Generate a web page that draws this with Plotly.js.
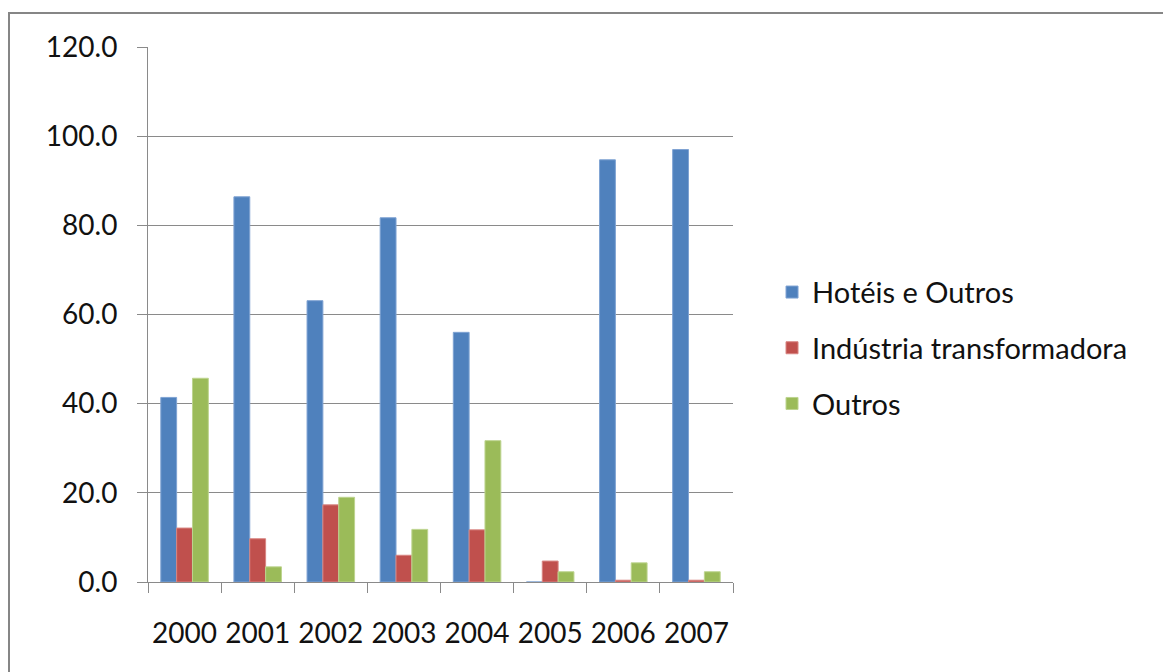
<!DOCTYPE html>
<html>
<head>
<meta charset="utf-8">
<script src="https://cdn.plot.ly/plotly-3.0.1.min.js"></script>
<style>
  html, body { margin: 0; padding: 0; background: #fff; overflow: hidden; }
  #chart { width: 1163px; height: 672px; }
  #frame { position: absolute; left: 8px; top: 12px; width: 1200px; height: 700px;
           border: 2px solid #868686; pointer-events: none; }
</style>
</head>
<body>
<div id="chart"></div>
<div id="frame"></div>
<script>
const years = ['2000', '2001', '2002', '2003', '2004', '2005', '2006', '2007'];
const hoteis = [41.4, 86.4, 63.1, 81.7, 56.0, 0, 94.7, 97.0];
const industria = [12.1, 9.7, 17.3, 6.0, 11.7, 4.7, 0.4, 0.4];
const outros = [45.7, 3.4, 19.0, 11.8, 31.7, 2.3, 4.3, 2.3];
const seriesNames = ['Hotéis e Outros', 'Indústria transformadora', 'Outros'];
const colors = ['#4F81BD', '#C0504D', '#9BBB59'];
const lineColors = ['#7FA3D3', '#D88582', '#BDD48F'];

const values = [hoteis, industria, outros];
const traces = values.map((v, i) => ({
  type: 'bar',
  x: years,
  y: v,
  name: seriesNames[i],
  legendgroup: 'g' + i,
  marker: { color: colors[i], line: { color: lineColors[i], width: 1 } },
  hoverinfo: 'x+y+name'
}));

const fontFamily = 'Lato, Carlito, Calibri, "Open Sans", sans-serif';
const gridColor = '#8a8a8a';
const textColor = '#111111';

const layout = {
  width: 1163,
  height: 672,
  margin: { l: 148, r: 430, t: 47, b: 90, pad: 0 },
  paper_bgcolor: '#ffffff',
  plot_bgcolor: '#ffffff',
  font: { family: fontFamily, size: 28, color: textColor },
  barmode: 'group',
  bargap: 0.35,
  bargroupgap: 0,
  showlegend: true,
  legend: {
    x: 1.0667, xanchor: 'left', y: 0.437, yanchor: 'middle',
    font: { family: fontFamily, size: 29, color: textColor },
    tracegroupgap: 15,
    bgcolor: 'rgba(0,0,0,0)'
  },
  xaxis: {
    type: 'category',
    showgrid: false,
    showline: true,
    linecolor: gridColor,
    linewidth: 1,
    ticks: 'outside',
    tickson: 'boundaries',
    ticklen: 10,
    tickcolor: gridColor,
    tickwidth: 1,
    tickangle: 0,
    automargin: false,
    ticklabelstandoff: 26,
    tickfont: { family: fontFamily, size: 28, color: textColor },
    fixedrange: true
  },
  yaxis: {
    range: [0, 120],
    dtick: 20,
    tick0: 0,
    tickformat: '.1f',
    showgrid: true,
    gridcolor: gridColor,
    gridwidth: 1,
    zeroline: false,
    showline: true,
    linecolor: gridColor,
    linewidth: 1,
    ticks: 'outside',
    ticklen: 10,
    tickcolor: gridColor,
    tickwidth: 1,
    ticklabelstandoff: 14,
    tickfont: { family: fontFamily, size: 28, color: textColor },
    fixedrange: true
  }
};

Plotly.newPlot('chart', traces, layout, { staticPlot: true, displayModeBar: false });
</script>
</body>
</html>
